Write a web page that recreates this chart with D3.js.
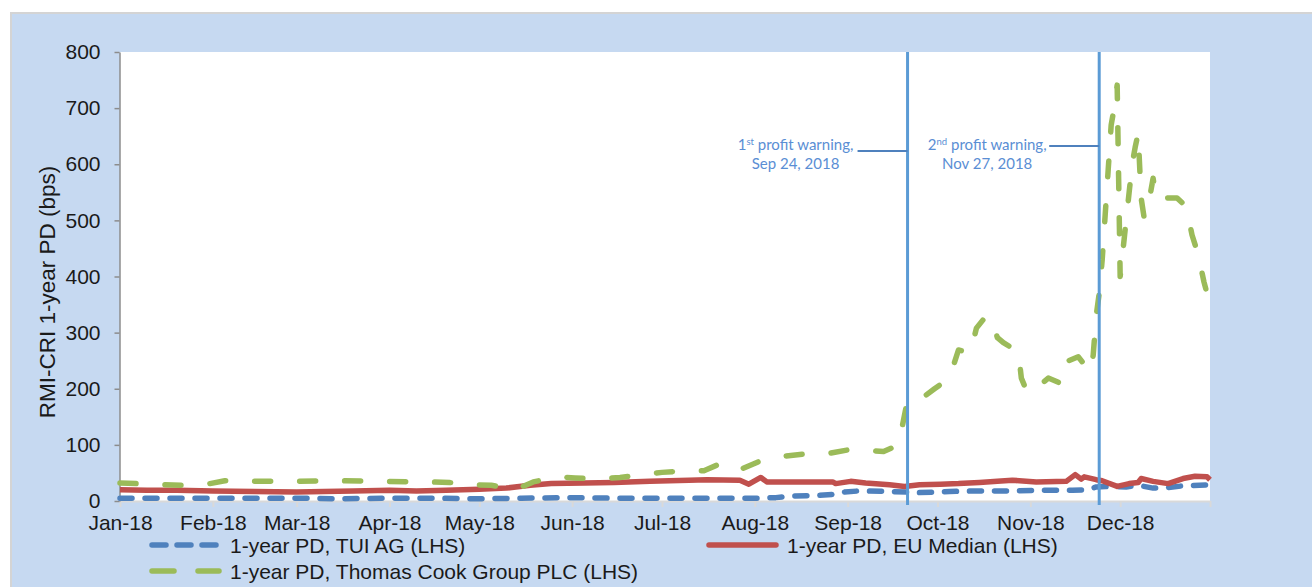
<!DOCTYPE html>
<html>
<head>
<meta charset="utf-8">
<script src="https://cdn.jsdelivr.net/npm/d3@7"></script>
<style>
  body { margin: 0; background: #fff; }
  svg text { font-family: Arial, "Liberation Sans", sans-serif; fill: #1a1a1a; }
  .ejeY path { stroke: #8c8c8c; stroke-width: 1.5; }
  .ejeY line { stroke: #8c8c8c; stroke-width: 1.5; }
  .ejeX path { stroke: #d9d9d9; stroke-width: 2; }
  .ejeX line { stroke: #d9d9d9; stroke-width: 2; }
  .nota { font-family: Lato, "Open Sans", sans-serif; fill: #5a8ed4; font-size: 15px; }
</style>
</head>
<body>
<div id="grafico"></div>
<script>
// Datos (bps)
const tuiData = [
  ["2018-01-01",5],["2018-01-15",5],["2018-02-01",5],["2018-02-15",5],["2018-03-01",5],
  ["2018-03-15",4],["2018-04-01",5],["2018-04-15",5],["2018-05-01",4],["2018-05-15",5],
  ["2018-06-01",6],["2018-06-15",5],["2018-07-01",5],["2018-07-15",5],["2018-08-01",5],
  ["2018-08-08",6],["2018-08-14",9],["2018-08-22",10],["2018-08-28",12],["2018-08-31",16],
  ["2018-09-05",18],["2018-09-15",17],["2018-09-25",15],["2018-10-05",17],["2018-10-15",18],
  ["2018-10-25",18],["2018-11-05",19],["2018-11-15",19],["2018-11-20",20],["2018-11-23",25],
  ["2018-11-28",26],["2018-12-03",25],["2018-12-07",28],["2018-12-12",23],["2018-12-17",24],
  ["2018-12-22",27],["2018-12-31",29]
];

const euData = [
  ["2018-01-01",20],["2018-01-10",19],["2018-01-20",19],["2018-02-01",18],["2018-02-15",17],
  ["2018-03-01",16],["2018-03-10",17],["2018-03-20",18],["2018-04-01",19],["2018-04-10",18],
  ["2018-04-20",19],["2018-05-01",21],["2018-05-10",23],["2018-05-18",28],["2018-05-25",31],
  ["2018-06-05",32],["2018-06-15",33],["2018-06-27",35],["2018-07-10",37],["2018-07-16",38],
  ["2018-07-27",37],["2018-07-30",30],["2018-08-03",42],["2018-08-05",34],["2018-08-27",34],
  ["2018-08-28",31],["2018-09-02",35],["2018-09-07",32],["2018-09-15",29],["2018-09-20",26],
  ["2018-09-25",29],["2018-10-02",30],["2018-10-08",31],["2018-10-15",33],["2018-10-21",35],
  ["2018-10-26",37],["2018-11-03",34],["2018-11-13",35],["2018-11-16",47],["2018-11-18",39],
  ["2018-11-19",43],["2018-11-23",38],["2018-11-25",36],["2018-11-30",26],["2018-12-04",31],
  ["2018-12-07",33],["2018-12-08",40],["2018-12-12",35],["2018-12-17",31],["2018-12-22",40],
  ["2018-12-26",44],["2018-12-30",43],["2018-12-31",38]
];

const tcData = [
  ["2018-01-01",32],["2018-01-07",31],["2018-01-15",29],["2018-01-22",28],["2018-01-31",31],
  ["2018-02-05",36],["2018-02-14",35],["2018-02-28",35],["2018-03-15",36],["2018-03-30",35],
  ["2018-04-14",34],["2018-04-21",33],["2018-04-28",29],["2018-05-05",28],["2018-05-13",20],
  ["2018-05-19",34],["2018-05-27",43],["2018-06-02",41],["2018-06-10",39],["2018-06-17",42],
  ["2018-06-24",47],["2018-07-01",51],["2018-07-09",54],["2018-07-15",54],["2018-07-22",70],
  ["2018-07-28",58],["2018-08-04",74],["2018-08-11",80],["2018-08-18",84],["2018-08-25",84],
  ["2018-09-01",91],["2018-09-07",90],["2018-09-13",88],["2018-09-18",100],["2018-09-21",180],
  ["2018-09-26",184],["2018-09-30",200],["2018-10-05",219],["2018-10-08",269],["2018-10-12",264],
  ["2018-10-14",308],["2018-10-17",328],["2018-10-19",326],["2018-10-21",291],["2018-10-23",282],
  ["2018-10-28",266],["2018-10-29",219],["2018-10-31",193],["2018-11-03",201],["2018-11-07",219],
  ["2018-11-11",210],["2018-11-12",246],["2018-11-17",257],["2018-11-21",230],["2018-11-22",260],
  ["2018-11-23",330],["2018-11-24",370],["2018-11-25",430],["2018-11-26",510],["2018-11-27",590],
  ["2018-11-28",670],["2018-11-29",700],["2018-11-30",741],["2018-12-01",400],["2018-12-02",450],
  ["2018-12-03",500],["2018-12-04",550],["2018-12-05",600],["2018-12-06",630],["2018-12-07",655],
  ["2018-12-08",540],["2018-12-09",505],["2018-12-10",520],["2018-12-11",545],["2018-12-12",575],
  ["2018-12-13",540],["2018-12-14",537],["2018-12-17",540],["2018-12-20",540],["2018-12-22",530],
  ["2018-12-24",500],["2018-12-25",474],["2018-12-27",440],["2018-12-29",390],["2018-12-31",350]
];

const yTicks = [0, 100, 200, 300, 400, 500, 600, 700, 800];
const xTicks = ["2018-01-01","2018-02-01","2018-03-01","2018-04-01","2018-05-01","2018-06-01",
  "2018-07-01","2018-08-01","2018-09-01","2018-10-01","2018-11-01","2018-12-01","2018-12-31"];
const xTickLabels = ["Jan-18","Feb-18","Mar-18","Apr-18","May-18","Jun-18",
  "Jul-18","Aug-18","Sep-18","Oct-18","Nov-18","Dec-18",""];

// Avisos de beneficios (posicion)
const avisos = [
  { fecha: "2018-09-21", ord: "1", sup: "st", fechaTxt: "Sep 24, 2018" },
  { fecha: "2018-11-24", ord: "2", sup: "nd", fechaTxt: "Nov 27, 2018" }
];

const series = [
  { nombre: "1-year PD, TUI AG (LHS)", datos: tuiData, color: "#4f81bd", dash: "12,13" },
  { nombre: "1-year PD, EU Median (LHS)", datos: euData, color: "#c0504d", dash: null },
  { nombre: "1-year PD, Thomas Cook Group PLC (LHS)", datos: tcData, color: "#9bbb59", dash: "16,29" }
];

const w = 1312, h = 587;
const margin = { top: 52, right: 102, bottom: 86, left: 120 };
const parse = d3.timeParse("%Y-%m-%d");

const svg = d3.select("#grafico")
  .append("svg")
  .attr("width", w)
  .attr("height", h);

// Fondo del grafico
svg.append("rect")
  .attr("x", 11).attr("y", 13)
  .attr("width", w).attr("height", h)
  .attr("fill", "#c6d9f1")
  .attr("stroke", "#d4d4d4")
  .attr("stroke-width", 2);

svg.append("rect")
  .attr("x", margin.left).attr("y", margin.top)
  .attr("width", w - margin.right - margin.left)
  .attr("height", h - margin.bottom - margin.top)
  .attr("fill", "#fff");

const xScale = d3.scaleTime()
  .domain([parse("2018-01-01"), parse("2018-12-31")])
  .range([margin.left, w - margin.right]);

const yScale = d3.scaleLinear()
  .domain([0, 800])
  .range([h - margin.bottom, margin.top]);

// Ejes
const xAxis = d3.axisBottom(xScale)
  .tickValues(xTicks.map(parse))
  .tickSize(6)
  .tickSizeOuter(0)
  .tickPadding(8)
  .tickFormat((d, i) => xTickLabels[i]);

svg.append("g")
  .attr("class", "ejeX")
  .attr("transform", `translate(0,${h - margin.bottom})`)
  .call(xAxis)
  .selectAll("text")
  .style("font-size", "21px")
  .style("fill", "#1a1a1a");

const yAxis = d3.axisLeft(yScale)
  .tickValues(yTicks)
  .tickSize(5)
  .tickSizeOuter(0)
  .tickPadding(14);

svg.append("g")
  .attr("class", "ejeY")
  .attr("transform", `translate(${margin.left - 0.5},0)`)
  .call(yAxis)
  .selectAll("text")
  .style("font-size", "21px")
  .style("fill", "#1a1a1a");

svg.append("text")
  .attr("transform", "rotate(-90)")
  .attr("x", -292)
  .attr("y", 55)
  .style("font-size", "22.5px")
  .style("text-anchor", "middle")
  .text("RMI-CRI 1-year PD (bps)");

// Lineas
const linea = d3.line()
  .x(d => xScale(parse(d[0])))
  .y(d => yScale(d[1]));

series.forEach(s => {
  svg.append("path")
    .datum(s.datos)
    .attr("fill", "none")
    .attr("stroke", s.color)
    .attr("stroke-width", 5.5)
    .attr("stroke-linejoin", "round")
    .attr("stroke-linecap", s.dash ? "round" : "butt")
    .attr("stroke-dasharray", s.dash)
    .attr("d", linea);
});

// Avisos
const offs = [{ tx: -112, ly: 151 }, { tx: -112, ly: 146 }];
avisos.forEach((a, i) => {
  const x = xScale(parse(a.fecha));
  svg.append("line")
    .attr("x1", x).attr("x2", x)
    .attr("y1", yScale(800)).attr("y2", yScale(0) + 4)
    .attr("stroke", "#5b9bd5")
    .attr("stroke-width", 3);

  svg.append("line")
    .attr("x1", x - 50).attr("x2", x)
    .attr("y1", offs[i].ly).attr("y2", offs[i].ly)
    .attr("stroke", "#4f81bd")
    .attr("stroke-width", 2);

  const t1 = svg.append("text")
    .attr("class", "nota")
    .attr("x", x + offs[i].tx)
    .attr("y", 150)
    .style("text-anchor", "middle");
  t1.append("tspan").text(a.ord);
  t1.append("tspan").attr("dy", -5).style("font-size", "9.5px").text(a.sup);
  t1.append("tspan").attr("dy", 5).text(" profit warning,");

  svg.append("text")
    .attr("class", "nota")
    .attr("x", x + offs[i].tx)
    .attr("y", 169)
    .style("text-anchor", "middle")
    .text(a.fechaTxt);
});

// Leyenda
const leyenda = [
  { s: series[0], x: 149, y: 545, dash: "14,11" },
  { s: series[1], x: 706, y: 545, dash: null },
  { s: series[2], x: 149, y: 571, dash: "22,24" }
];

leyenda.forEach(l => {
  svg.append("line")
    .attr("x1", l.x + 3).attr("x2", l.x + 70)
    .attr("y1", l.y).attr("y2", l.y)
    .attr("stroke", l.s.color)
    .attr("stroke-width", 5.5)
    .attr("stroke-linecap", "round")
    .attr("stroke-dasharray", l.dash);

  svg.append("text")
    .attr("x", l.x + 81)
    .attr("y", l.y + 7.5)
    .style("font-size", "21px")
    .text(l.s.nombre);
});
</script>
</body>
</html>
